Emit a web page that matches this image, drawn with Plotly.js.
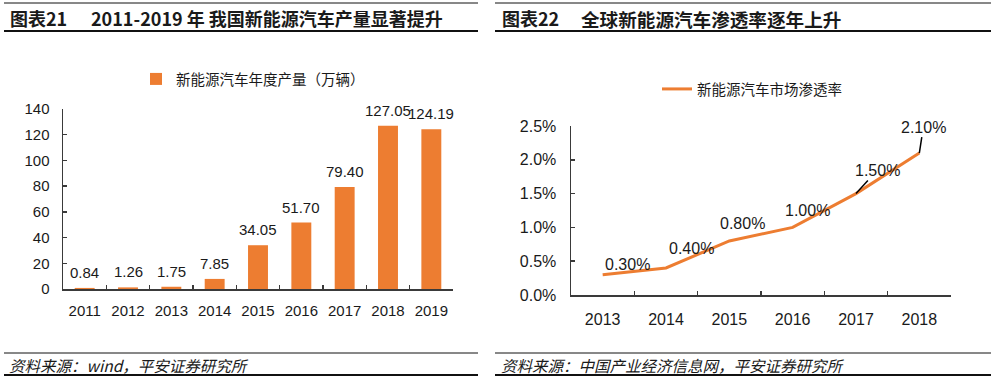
<!DOCTYPE html>
<html>
<head>
<meta charset="utf-8">
<script src="https://cdn.plot.ly/plotly-3.0.1.min.js"></script>
<style>html,body{margin:0;padding:0;background:#fff}#chart{width:1000px;height:381px}</style>
</head>
<body>
<div id="chart"></div>
<script>
// ---- data ----
const prodYears = ['2011','2012','2013','2014','2015','2016','2017','2018','2019'];
const prodValues = [0.84, 1.26, 1.75, 7.85, 34.05, 51.70, 79.40, 127.05, 124.19];
const prodName = '新能源汽车年度产量（万辆）';

const penYears = ['2013','2014','2015','2016','2017','2018'];
const penValues = [0.003, 0.004, 0.008, 0.010, 0.015, 0.021];
const penName = '新能源汽车市场渗透率';

const title1Tag = '图表21';
const title1Text = '2011-2019 年 我国新能源汽车产量显著提升';
const title2Tag = '图表22';
const title2Text = '全球新能源汽车渗透率逐年上升';
const source1 = '资料来源：wind，平安证券研究所';
const source2 = '资料来源：中国产业经济信息网，平安证券研究所';

// ---- styling ----
const W = 1000, H = 381;
const FONT = '"Liberation Sans", Arial, "Noto Sans CJK SC", sans-serif';
const CJK = '"Noto Sans CJK SC", "Liberation Sans", sans-serif';
const ORANGE = '#ED7D31';
const TXT = '#1a1a1a';
const AX = '#3a3a3a';
const px = v => v / W;
const py = v => 1 - v / H;

// pixel offsets for line labels (style, not data)
const penLabelDx = [25, 25, 13, 15, 21, 4];
const penLabelDy = [-10, -19, -17, -17, -23, -26];
const penLeader = [false, false, false, false, true, true];

const traces = [
  {
    type: 'bar', x: prodYears, y: prodValues, name: prodName,
    marker: {color: ORANGE}, xaxis: 'x', yaxis: 'y', legend: 'legend',
    hoverinfo: 'x+y'
  },
  {
    type: 'scatter', mode: 'lines', x: penYears, y: penValues, name: penName,
    line: {color: ORANGE, width: 3}, xaxis: 'x2', yaxis: 'y2', legend: 'legend2'
  }
];

const annotations = [];
prodValues.forEach((v, i) => {
  annotations.push({
    xref: 'x', yref: 'y', x: i, y: v, text: v.toFixed(2),
    showarrow: false, yanchor: 'bottom', yshift: 5,
    font: {family: FONT, size: 15, color: TXT}
  });
});
penValues.forEach((v, i) => {
  const a = {
    xref: 'x2', yref: 'y2', x: i, y: v, text: (v * 100).toFixed(2) + '%',
    font: {family: FONT, size: 16, color: TXT}
  };
  if (penLeader[i]) {
    Object.assign(a, {showarrow: true, arrowhead: 0, arrowwidth: 1.5, arrowcolor: '#000',
      ax: penLabelDx[i], ay: penLabelDy[i], standoff: 0, startstandoff: 0});
  } else {
    Object.assign(a, {showarrow: false, xshift: penLabelDx[i], yshift: -penLabelDy[i]});
  }
  annotations.push(a);
});

// titles and sources
annotations.push(
  {xref: 'paper', yref: 'paper', x: px(8), y: py(18), xanchor: 'left', yanchor: 'middle', showarrow: false,
   text: '<b>' + title1Tag + '</b>', font: {family: CJK, size: 18, color: TXT}},
  {xref: 'paper', yref: 'paper', x: px(89), y: py(18), xanchor: 'left', yanchor: 'middle', showarrow: false,
   text: '<b>' + title1Text + '</b>', font: {family: CJK, size: 18, color: TXT}},
  {xref: 'paper', yref: 'paper', x: px(500), y: py(18), xanchor: 'left', yanchor: 'middle', showarrow: false,
   text: '<b>' + title2Tag + '</b>', font: {family: CJK, size: 18, color: TXT}},
  {xref: 'paper', yref: 'paper', x: px(579), y: py(18), xanchor: 'left', yanchor: 'middle', showarrow: false,
   text: '<b>' + title2Text + '</b>', font: {family: CJK, size: 18.6, color: TXT}},
  {xref: 'paper', yref: 'paper', x: px(7), y: py(365), xanchor: 'left', yanchor: 'middle', showarrow: false,
   text: '<i>' + source1 + '</i>', font: {family: CJK, size: 15.5, color: TXT}},
  {xref: 'paper', yref: 'paper', x: px(499), y: py(365), xanchor: 'left', yanchor: 'middle', showarrow: false,
   text: '<i>' + source2 + '</i>', font: {family: CJK, size: 15.5, color: TXT}}
);

const hline = (x0, x1, y, w) => ({type: 'line', xref: 'paper', yref: 'paper',
  x0: px(x0), x1: px(x1), y0: py(y), y1: py(y), line: {color: '#111', width: w}});
const shapes = [
  hline(4, 478, 3, 1), hline(4, 478, 31, 2),
  hline(495, 991, 3, 1), hline(495, 991, 31, 2),
  hline(4, 478, 353, 1), hline(4, 478, 375, 2),
  hline(495, 991, 353, 1), hline(495, 991, 375, 2)
];

const axisCommon = {
  showgrid: false, zeroline: false, showline: true, linecolor: AX, linewidth: 1.5,
  ticks: 'inside', ticklen: 4, tickcolor: AX, tickwidth: 1.5, fixedrange: true
};

const layout = {
  width: W, height: H,
  margin: {l: 0, r: 0, t: 0, b: 0},
  paper_bgcolor: '#fff', plot_bgcolor: '#fff',
  font: {family: FONT, color: TXT},
  bargap: 0.54,
  showlegend: true,
  xaxis: Object.assign({}, axisCommon, {
    domain: [px(63), px(453)], anchor: 'y', type: 'category', tickson: 'boundaries',
    range: [-0.5, prodYears.length - 0.5], tickangle: 0,
    tickfont: {family: FONT, size: 15, color: TXT}, ticklabelstandoff: 7
  }),
  yaxis: Object.assign({}, axisCommon, {
    domain: [py(289), py(109)], anchor: 'x', range: [0, 140], dtick: 20,
    tickfont: {family: FONT, size: 15, color: TXT}, ticklabelstandoff: 9
  }),
  xaxis2: Object.assign({}, axisCommon, {
    domain: [px(571), px(951)], anchor: 'y2', type: 'category', tickson: 'boundaries',
    range: [-0.5, penYears.length - 0.5], tickangle: 0,
    tickfont: {family: FONT, size: 16, color: TXT}, ticklabelstandoff: 9
  }),
  yaxis2: Object.assign({}, axisCommon, {
    domain: [py(295), py(126)], anchor: 'x2', range: [0, 0.025], dtick: 0.005, tickformat: '.1%',
    tickfont: {family: FONT, size: 16, color: TXT}, ticklabelstandoff: 10
  }),
  legend: {
    x: px(136), y: py(79), xanchor: 'left', yanchor: 'middle', orientation: 'h',
    bgcolor: 'rgba(0,0,0,0)', borderwidth: 0, font: {family: CJK, size: 14.5, color: TXT}
  },
  legend2: {
    x: px(657), y: py(89), xanchor: 'left', yanchor: 'middle', orientation: 'h',
    bgcolor: 'rgba(0,0,0,0)', borderwidth: 0, font: {family: CJK, size: 14.5, color: TXT}
  },
  annotations: annotations,
  shapes: shapes
};

Plotly.newPlot('chart', traces, layout, {staticPlot: true, displayModeBar: false});
</script>
</body>
</html>
